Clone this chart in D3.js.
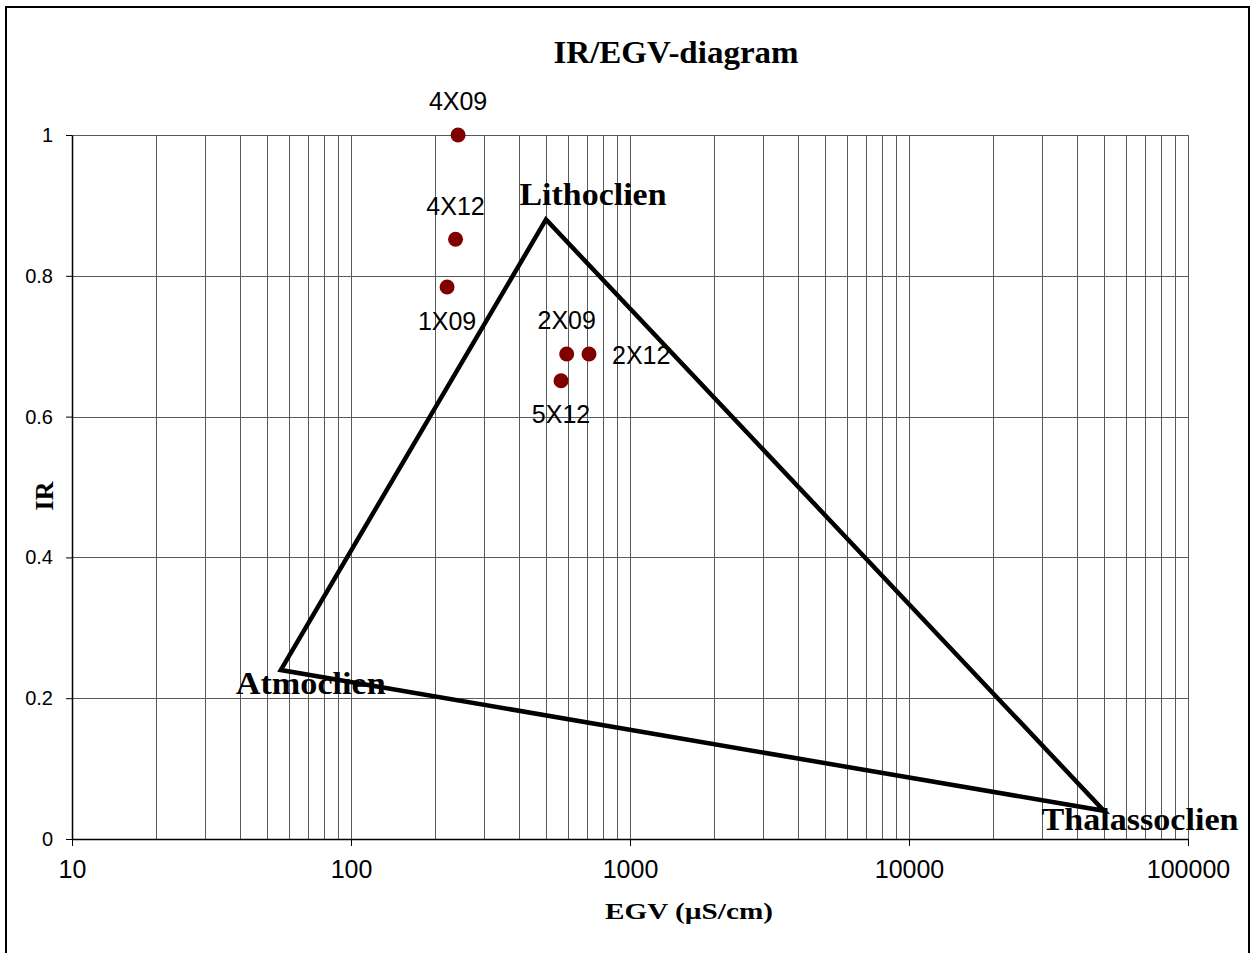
<!DOCTYPE html>
<html>
<head>
<meta charset="utf-8">
<script src="https://cdn.jsdelivr.net/npm/d3@7"></script>
<style>
  html, body { margin: 0; padding: 0; background: #fff; }
  svg { display: block; }
</style>
</head>
<body>
<svg id="chart" width="1252" height="953"></svg>
<script>
// Water samples: electrical conductivity (µS/cm) and ionic ratio
const sampleNames = ["4X09", "4X12", "1X09", "2X09", "2X12", "5X12"];
const sampleEGV   = [242, 237, 221, 593, 713, 566];
const sampleIR    = [1.0, 0.852, 0.784, 0.689, 0.689, 0.651];

// Reference end-members of the IR/EGV triangle
const endNames = ["Atmoclien", "Lithoclien", "Thalassoclien"];
const endEGV   = [56, 500, 50000];
const endIR    = [0.24, 0.88, 0.04];

// Axis ticks
const xTickValues = [10, 100, 1000, 10000, 100000];
const yTickValues = [0, 0.2, 0.4, 0.6, 0.8, 1];

const svg = d3.select("#chart");
const plotLeft = 72, plotRight = 1188, plotTop = 135, plotBottom = 839;

const x = d3.scaleLog().domain([10, 100000]).range([plotLeft, plotRight]);
const y = d3.scaleLinear().domain([0, 1]).range([plotBottom, plotTop]);

// Outer frame
svg.append("rect")
  .attr("x", 6).attr("y", 7).attr("width", 1243).attr("height", 970)
  .attr("fill", "none").attr("stroke", "#000").attr("stroke-width", 2);

// Title
svg.append("text")
  .attr("x", 676).attr("y", 63)
  .attr("text-anchor", "middle")
  .attr("font-family", "Liberation Serif, serif")
  .attr("font-weight", "bold").attr("font-size", 32)
  .attr("textLength", 245).attr("lengthAdjust", "spacingAndGlyphs")
  .text("IR/EGV-diagram");

// Vertical grid: every 1..9 × 10^k
const gridX = [];
for (let k = 1; k <= 4; k++) {
  for (let m = 1; m <= 9; m++) {
    const v = m * Math.pow(10, k);
    if (v > 10) gridX.push(v);
  }
}
gridX.push(100000);

const grid = svg.append("g").attr("shape-rendering", "crispEdges");
grid.selectAll("line.gx").data(gridX).join("line")
  .attr("class", "gx")
  .attr("x1", d => Math.round(x(d)) + 0.5).attr("x2", d => Math.round(x(d)) + 0.5)
  .attr("y1", plotTop).attr("y2", plotBottom)
  .attr("stroke", "#5a5a5a").attr("stroke-width", 1);

grid.selectAll("line.gy").data(yTickValues.filter(d => d > 0)).join("line")
  .attr("class", "gy")
  .attr("x1", plotLeft).attr("x2", plotRight)
  .attr("y1", d => Math.round(y(d)) + 0.5).attr("y2", d => Math.round(y(d)) + 0.5)
  .attr("stroke", "#5a5a5a").attr("stroke-width", 1);

// X axis
const xAxis = d3.axisBottom(x)
  .tickValues(xTickValues)
  .tickFormat(d3.format("d"))
  .tickSizeInner(7).tickSizeOuter(0).tickPadding(14);
const gx = svg.append("g")
  .attr("transform", `translate(0,${plotBottom})`)
  .call(xAxis);
gx.select(".domain").attr("stroke", "#000").attr("stroke-width", 1.5);
gx.selectAll(".tick line").attr("stroke", "#000");
gx.selectAll(".tick text")
  .attr("font-family", "Liberation Sans, Arial, sans-serif")
  .attr("font-size", 25).attr("fill", "#000");

// Y axis
const yAxis = d3.axisLeft(y)
  .tickValues(yTickValues)
  .tickFormat(d => d === 0 || d === 1 ? String(d) : d3.format(".1f")(d))
  .tickSizeInner(6).tickSizeOuter(0).tickPadding(13);
const gy = svg.append("g")
  .attr("transform", `translate(${plotLeft},0)`)
  .call(yAxis);
gy.select(".domain").attr("stroke", "#000").attr("stroke-width", 1.5);
gy.selectAll(".tick line").attr("stroke", "#000");
gy.selectAll(".tick text")
  .attr("font-family", "Liberation Sans, Arial, sans-serif")
  .attr("font-size", 20).attr("fill", "#000");

// Axis titles
svg.append("text")
  .attr("x", 689).attr("y", 919)
  .attr("text-anchor", "middle")
  .attr("font-family", "Liberation Serif, serif")
  .attr("font-weight", "bold").attr("font-size", 24)
  .attr("textLength", 168).attr("lengthAdjust", "spacingAndGlyphs")
  .text("EGV (µS/cm)");

svg.append("text")
  .attr("transform", "translate(53,496) rotate(-90)")
  .attr("text-anchor", "middle")
  .attr("font-family", "Liberation Serif, serif")
  .attr("font-weight", "bold").attr("font-size", 26)
  .text("IR");

// End-member labels, placed relative to their vertex
const endOffsets = {
  "Atmoclien":     { dx: 30, dy: 24, len: 150 },
  "Lithoclien":    { dx: 47, dy: -14, len: 147 },
  "Thalassoclien": { dx: 36, dy: 19, len: 197 }
};
svg.append("g").selectAll("text").data(endNames).join("text")
  .attr("x", (d, i) => x(endEGV[i]) + endOffsets[d].dx)
  .attr("y", (d, i) => y(endIR[i]) + endOffsets[d].dy)
  .attr("text-anchor", "middle")
  .attr("font-family", "Liberation Serif, serif")
  .attr("font-weight", "bold").attr("font-size", 32)
  .attr("textLength", d => endOffsets[d].len)
  .attr("lengthAdjust", "spacingAndGlyphs")
  .text(d => d);

// Triangle
const triPts = endNames.map((d, i) => [x(endEGV[i]), y(endIR[i])]);
svg.append("path")
  .attr("d", d3.line()(triPts) + "Z")
  .attr("fill", "none").attr("stroke", "#000")
  .attr("stroke-width", 4.5).attr("stroke-linejoin", "miter");

// Sample points
svg.append("g").selectAll("circle").data(sampleNames).join("circle")
  .attr("cx", (d, i) => x(sampleEGV[i]))
  .attr("cy", (d, i) => y(sampleIR[i]))
  .attr("r", 7.5)
  .attr("fill", "#800000");

// Sample labels
const labelPlace = {
  "4X09": { dx: 0, dy: -25, anchor: "middle" },
  "4X12": { dx: 0, dy: -24, anchor: "middle" },
  "1X09": { dx: 0, dy: 43, anchor: "middle" },
  "2X09": { dx: 0, dy: -25, anchor: "middle" },
  "2X12": { dx: 23, dy: 10, anchor: "start" },
  "5X12": { dx: 0, dy: 42, anchor: "middle" }
};
svg.append("g").selectAll("text").data(sampleNames).join("text")
  .attr("x", (d, i) => x(sampleEGV[i]) + labelPlace[d].dx)
  .attr("y", (d, i) => y(sampleIR[i]) + labelPlace[d].dy)
  .attr("text-anchor", d => labelPlace[d].anchor)
  .attr("font-family", "Liberation Sans, Arial, sans-serif")
  .attr("font-size", 25).attr("fill", "#000")
  .text(d => d);
</script>
</body>
</html>
